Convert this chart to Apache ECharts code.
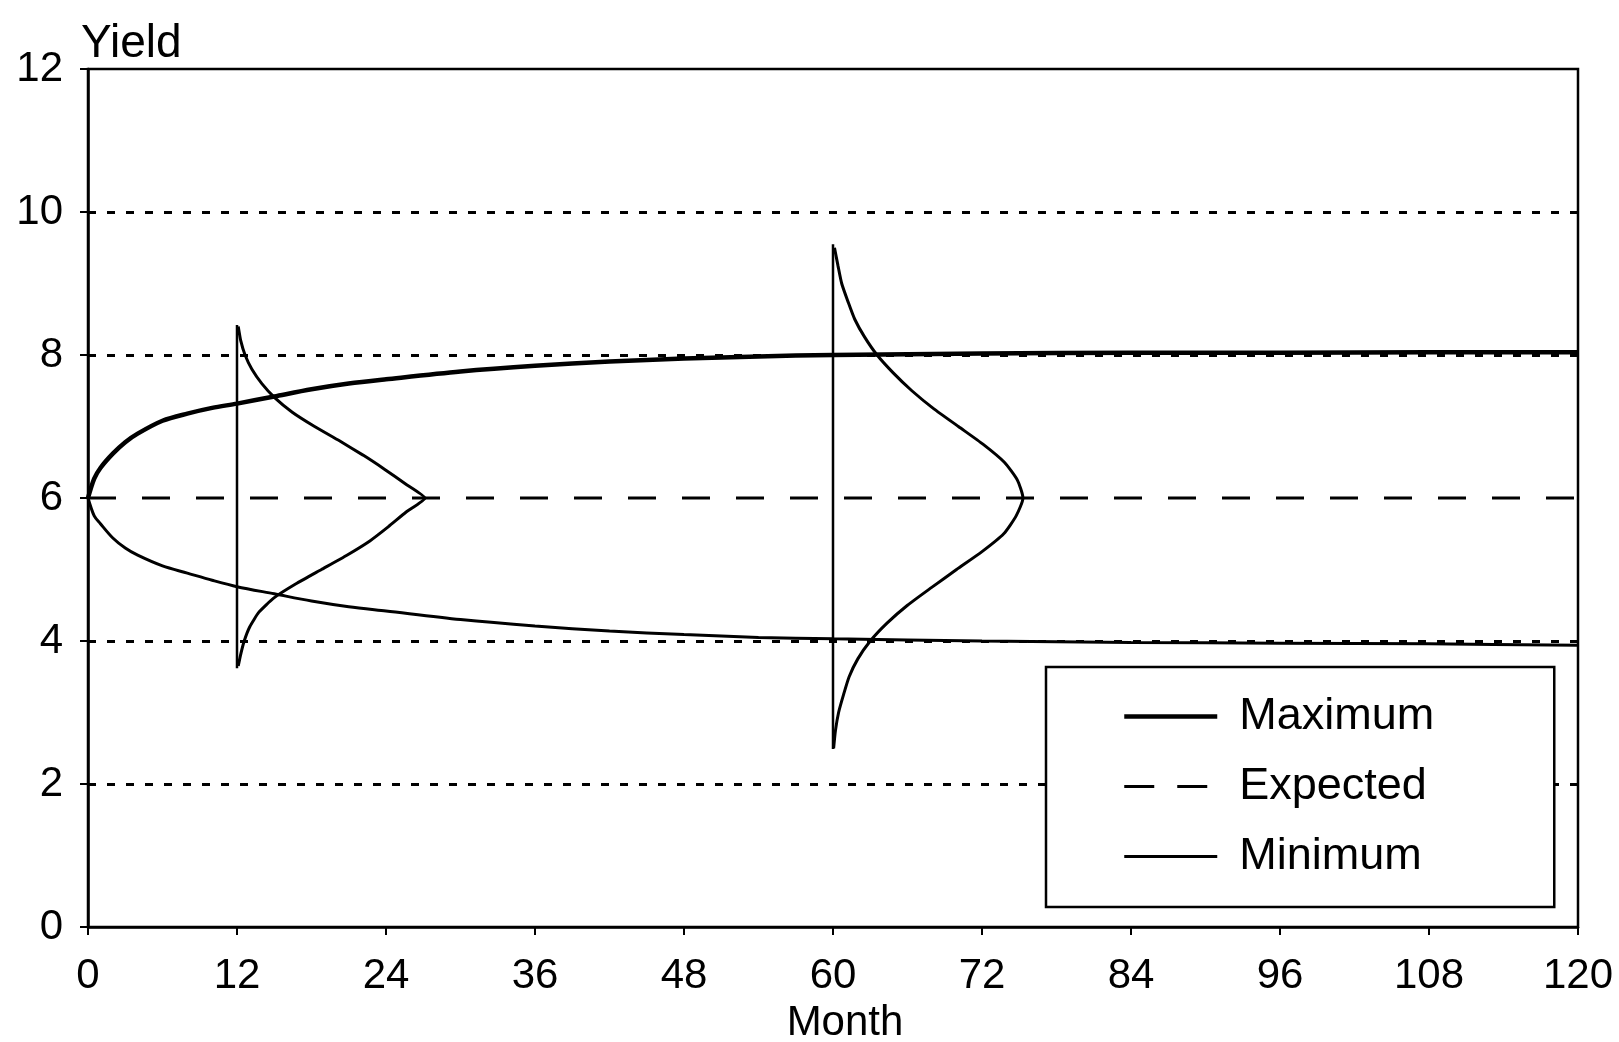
<!DOCTYPE html>
<html>
<head>
<meta charset="utf-8">
<script src="https://cdn.jsdelivr.net/npm/echarts@6/dist/echarts.min.js"></script>
<style>
html,body{margin:0;padding:0;background:#fff;}
#chart{width:1619px;height:1042px;}
</style>
</head>
<body>
<div id="chart"></div>
<script>
// ---- data ----
const monthTicks = [0, 12, 24, 36, 48, 60, 72, 84, 96, 108, 120];
const yieldTicks = [0, 2, 4, 6, 8, 10, 12];
const gridYields = [2, 4, 8, 10];

const months   = [0, 0.5, 1, 2, 3, 4, 6, 8, 10, 12, 15, 18, 21, 24, 30, 36, 42, 48, 54, 60, 72, 84, 96, 108, 120];
const maxYield = [6.0, 6.27, 6.42, 6.62, 6.78, 6.9, 7.08, 7.18, 7.26, 7.32, 7.42, 7.52, 7.6, 7.66, 7.77, 7.85, 7.91, 7.95, 7.98, 8.0, 8.02, 8.03, 8.03, 8.04, 8.04];
const minYield = [6.0, 5.75, 5.64, 5.44, 5.3, 5.2, 5.05, 4.95, 4.85, 4.76, 4.66, 4.56, 4.48, 4.42, 4.3, 4.21, 4.14, 4.09, 4.05, 4.03, 4.0, 3.98, 3.97, 3.96, 3.94];
const expMonths = [0, 120];
const expYield  = [6, 6];

// sideways yield distributions drawn at month 12 and month 60
const dist12Month = [12.1, 12.3, 12.65, 13.2, 14.0, 15.05, 16.45, 18.25, 20.25, 22.15, 23.9, 25.55, 27.15,
                     25.6, 24.2, 22.7, 20.85, 18.8, 16.75, 14.95, 13.75, 13.03, 12.58, 12.28, 12.1];
const dist12Yield = [8.4, 8.2, 8.0, 7.8, 7.6, 7.4, 7.2, 7.0, 6.8, 6.6, 6.4, 6.2, 6.0,
                     5.8, 5.6, 5.4, 5.2, 5.0, 4.8, 4.6, 4.4, 4.2, 4.0, 3.8, 3.65];
const dist60Month = [60.12, 60.4, 60.7, 61.2, 61.75, 62.55, 63.55, 64.85, 66.35, 68.1, 70.1, 72.1, 73.8, 74.85, 75.3,
                     74.75, 73.75, 72.0, 69.95, 67.95, 66.0, 64.35, 63.0, 62.0, 61.3, 60.85, 60.45, 60.2, 60.05];
const dist60Yield = [9.5, 9.25, 9.0, 8.75, 8.5, 8.25, 8.0, 7.75, 7.5, 7.25, 7.0, 6.75, 6.5, 6.25, 6.0,
                     5.75, 5.5, 5.25, 5.0, 4.75, 4.5, 4.25, 4.0, 3.75, 3.5, 3.25, 3.0, 2.75, 2.5];
const vert12Month = [12, 12];
const vert12Yield = [3.62, 8.42];
const vert60Month = [60, 60];
const vert60Yield = [2.49, 9.55];

const zip = (xs, ys) => xs.map((x, i) => [x, ys[i]]);
const FONT = 'Liberation Sans, Arial, Helvetica, sans-serif';

const chart = echarts.init(document.getElementById('chart'), null, {renderer: 'canvas'});
chart.setOption({
  animation: false,
  backgroundColor: '#fff',
  grid: {left: 88, right: 41, top: 69, bottom: 115, show: true, borderColor: '#000', borderWidth: 2.5,
         containLabel: false, outerBoundsMode: 'none'},
  legend: {
    data: [
      {name: 'Maximum', lineStyle: {width: 4.5}},
      {name: 'Expected', lineStyle: {width: 3, type: [30, 23]}},
      {name: 'Minimum', lineStyle: {width: 3}}
    ],
    z: 20,
    orient: 'vertical', left: 1046, top: 667,
    padding: [27, 120, 28, 76],
    itemWidth: 93, itemHeight: 20, itemGap: 25,
    itemStyle: {color: 'rgba(0,0,0,0)', borderWidth: 0, opacity: 0},
    backgroundColor: '#fff', borderColor: '#000', borderWidth: 2.5,
    textStyle: {fontFamily: FONT, fontSize: 45, color: '#000', lineHeight: 45, padding: [0, 0, 0, 17]}
  },
  xAxis: {
    type: 'value', min: monthTicks[0], max: monthTicks[monthTicks.length - 1], interval: 12,
    name: 'Month', nameLocation: 'middle', nameGap: 75,
    nameTextStyle: {fontFamily: FONT, fontSize: 42, color: '#000', padding: [0, 0, 0, 24]},
    axisLine: {lineStyle: {color: '#000', width: 2.5}},
    axisTick: {show: true, length: 8, lineStyle: {color: '#000', width: 2}},
    axisLabel: {fontFamily: FONT, fontSize: 42, color: '#000', margin: 28,
      formatter: v => monthTicks.includes(v) ? String(v) : ''},
    splitLine: {show: false}
  },
  yAxis: {
    type: 'value', min: yieldTicks[0], max: yieldTicks[yieldTicks.length - 1], interval: 2,
    name: 'Yield', nameLocation: 'end', nameGap: 2,
    nameTextStyle: {fontFamily: FONT, fontSize: 46, color: '#000', align: 'left', verticalAlign: 'bottom', padding: [0, 0, 0, -7]},
    axisLine: {show: true, lineStyle: {color: '#000', width: 2.5}},
    axisTick: {show: true, length: 8, lineStyle: {color: '#000', width: 2}},
    axisLabel: {fontFamily: FONT, fontSize: 42, color: '#000', margin: 25, padding: [6, 0, 0, 0],
      formatter: v => yieldTicks.includes(v) ? String(v) : ''},
    splitLine: {show: false}
  },
  series: [
    {
      name: 'Maximum', type: 'line', data: zip(months, maxYield), symbol: 'none', smooth: 0.3,
      lineStyle: {color: '#000', width: 4.5}, itemStyle: {color: '#000'}, silent: true, z: 5
    },
    {
      name: 'Expected', type: 'line', data: zip(expMonths, expYield), symbol: 'none',
      lineStyle: {color: '#000', width: 3, type: [28, 26]}, itemStyle: {color: '#000'}, silent: true, z: 4,
      markLine: {
        silent: true, symbol: 'none', label: {show: false}, z: 3,
        lineStyle: {color: '#000', width: 3, type: [8, 11]},
        data: gridYields.map(v => ({yAxis: v}))
      }
    },
    {
      name: 'Minimum', type: 'line', data: zip(months, minYield), symbol: 'none', smooth: 0.3,
      lineStyle: {color: '#000', width: 3}, itemStyle: {color: '#000'}, silent: true, z: 5
    },
    {
      name: 'dist12', type: 'line', data: zip(dist12Month, dist12Yield), symbol: 'none', smooth: 0.15,
      lineStyle: {color: '#000', width: 3}, silent: true, z: 5
    },
    {
      name: 'dist60', type: 'line', data: zip(dist60Month, dist60Yield), symbol: 'none', smooth: 0.2,
      lineStyle: {color: '#000', width: 3}, silent: true, z: 5
    },
    {
      name: 'vert12', type: 'line', data: zip(vert12Month, vert12Yield), symbol: 'none',
      lineStyle: {color: '#000', width: 2.5}, silent: true, z: 5
    },
    {
      name: 'vert60', type: 'line', data: zip(vert60Month, vert60Yield), symbol: 'none',
      lineStyle: {color: '#000', width: 2.5}, silent: true, z: 5
    }
  ]
});
</script>
</body>
</html>
